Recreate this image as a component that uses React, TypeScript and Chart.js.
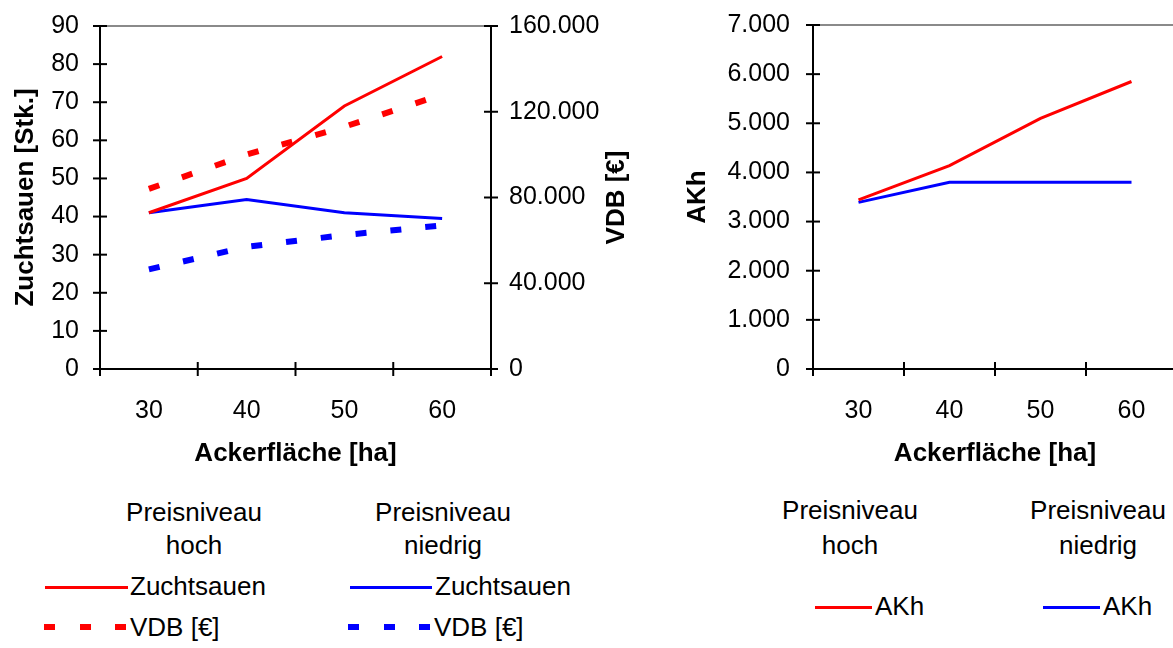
import React, { useEffect, useRef } from 'react';
import { Chart, registerables } from 'chart.js';

Chart.register(...registerables);

// ---------- data ----------
const categories = ['30', '40', '50', '60'];
const sowsHigh = [41, 50, 69, 82];
const sowsLow = [41, 44.5, 41, 39.5];
const vdbHigh = [84000, 100000, 113000, 128000];
const vdbLow = [46500, 57000, 62500, 67000];
const akhHigh = [3440, 4140, 5100, 5850];
const akhLow = [3390, 3800, 3800, 3800];

const sowsMax = 90;
const sowsStep = 10;
const vdbMax = 160000;
const vdbStep = 40000;
const akhMax = 7000;
const akhStep = 1000;

const xTitle = 'Ackerfläche [ha]';
const sowsTitle = 'Zuchtsauen [Stk.]';
const vdbTitle = 'VDB [€]';
const akhTitle = 'AKh';

const RED = '#ff0000';
const BLUE = '#0000ff';
const FONT = '"Liberation Sans", Arial, sans-serif';

const fmt = (v: number | string) =>
  String(v).replace(/\B(?=(\d{3})+(?!\d))/g, '.');

Chart.defaults.font.family = FONT;
Chart.defaults.color = '#000';

// plot frame: grey top line + crossing tick marks
const framePlugin = {
  id: 'framePlugin',
  beforeDatasetsDraw(chart: any) {
    const { ctx, chartArea: ca } = chart;
    ctx.save();
    ctx.strokeStyle = '#8a8a8a';
    ctx.lineWidth = 2;
    ctx.beginPath();
    ctx.moveTo(ca.left, ca.top);
    ctx.lineTo(ca.right, ca.top);
    ctx.stroke();
    ctx.restore();
  },
  afterDraw(chart: any) {
    const { ctx } = chart;
    ctx.save();
    ctx.strokeStyle = '#000';
    ctx.lineWidth = 2;
    const L = 7;
    Object.values(chart.scales).forEach((s: any) => {
      if (s.isHorizontal()) {
        const n = s.ticks.length;
        const half = (s.getPixelForValue(1) - s.getPixelForValue(0)) / 2;
        const y = s.top;
        for (let i = 0; i <= n; i++) {
          const x = i < n ? s.getPixelForValue(i) - half : s.getPixelForValue(n - 1) + half;
          ctx.beginPath();
          ctx.moveTo(x, y - L);
          ctx.lineTo(x, y + L);
          ctx.stroke();
        }
      } else {
        const x = s.position === 'left' ? s.right : s.left;
        s.ticks.forEach((t: any) => {
          const y = s.getPixelForValue(t.value);
          ctx.beginPath();
          ctx.moveTo(x - L, y);
          ctx.lineTo(x + L, y);
          ctx.stroke();
        });
      }
    });
    ctx.restore();
  },
};

// right-hand axis title reading bottom-to-top
const rightTitlePlugin = {
  id: 'rightTitle',
  afterDraw(chart: any, _args: any, opts: any) {
    if (!opts || !opts.text) return;
    const s = chart.scales[opts.axis];
    const { ctx } = chart;
    ctx.save();
    ctx.font = `bold 26px ${FONT}`;
    ctx.fillStyle = '#000';
    ctx.textAlign = 'center';
    ctx.textBaseline = 'middle';
    ctx.translate(s.right - opts.offset, (s.top + s.bottom) / 2);
    ctx.rotate(-Math.PI / 2);
    ctx.fillText(opts.text, 0, 0);
    ctx.restore();
  },
};

const border = { display: true, color: '#000', width: 2 };
const tickFont = { size: 25 };
const titleFont = { size: 26, weight: 'bold' as const };

function xScale(height: number) {
  return {
    type: 'category',
    offset: true,
    grid: { display: false, offset: true, drawTicks: true, tickLength: 27 },
    border,
    ticks: { color: '#000', font: tickFont, padding: 0, maxRotation: 0, autoSkip: false },
    title: { display: true, text: xTitle, color: '#000', font: titleFont, padding: { top: 0, bottom: 11 } },
    afterFit: (s: any) => {
      s.height = height;
    },
  };
}

const leftConfig: any = {
  type: 'line',
  data: {
    labels: categories,
    datasets: [
      { label: 'Zuchtsauen hoch', data: sowsHigh, yAxisID: 'y', borderColor: RED, borderWidth: 3, pointRadius: 0, tension: 0 },
      { label: 'Zuchtsauen niedrig', data: sowsLow, yAxisID: 'y', borderColor: BLUE, borderWidth: 3, pointRadius: 0, tension: 0 },
      { label: 'VDB hoch', data: vdbHigh, yAxisID: 'y1', borderColor: RED, borderWidth: 6, borderDash: [11, 24], borderCapStyle: 'butt', pointRadius: 0, tension: 0 },
      { label: 'VDB niedrig', data: vdbLow, yAxisID: 'y1', borderColor: BLUE, borderWidth: 6, borderDash: [11, 24], borderCapStyle: 'butt', pointRadius: 0, tension: 0 },
    ],
  },
  options: {
    responsive: false,
    animation: false,
    layout: { padding: { top: 26, left: 0, right: 0, bottom: 0 } },
    plugins: {
      legend: { display: false },
      tooltip: { enabled: false },
      rightTitle: { text: vdbTitle, axis: 'y1', offset: 23 },
    },
    scales: {
      x: xScale(111),
      y: {
        position: 'left',
        min: 0,
        max: sowsMax,
        grid: { display: false, drawTicks: true, tickLength: 21 },
        border,
        ticks: { stepSize: sowsStep, color: '#000', font: tickFont, padding: 0 },
        title: { display: true, text: sowsTitle, color: '#000', font: titleFont, padding: { top: 10, bottom: 0 } },
        afterFit: (s: any) => {
          s.width = 100;
        },
      },
      y1: {
        position: 'right',
        min: 0,
        max: vdbMax,
        grid: { display: false, drawTicks: true, tickLength: 18 },
        border,
        ticks: { stepSize: vdbStep, color: '#000', font: tickFont, padding: 0, callback: (v: number) => fmt(v) },
        afterFit: (s: any) => {
          s.width = 149;
        },
      },
    },
  },
  plugins: [framePlugin, rightTitlePlugin],
};

const rightConfig: any = {
  type: 'line',
  data: {
    labels: categories,
    datasets: [
      { label: 'AKh hoch', data: akhHigh, borderColor: RED, borderWidth: 3, pointRadius: 0, tension: 0 },
      { label: 'AKh niedrig', data: akhLow, borderColor: BLUE, borderWidth: 3, pointRadius: 0, tension: 0 },
    ],
  },
  options: {
    responsive: false,
    animation: false,
    layout: { padding: { top: 25, left: 0, right: 63, bottom: 0 } },
    plugins: { legend: { display: false }, tooltip: { enabled: false } },
    scales: {
      x: xScale(111),
      y: {
        position: 'left',
        min: 0,
        max: akhMax,
        grid: { display: false, drawTicks: true, tickLength: 23 },
        border,
        ticks: { stepSize: akhStep, color: '#000', font: tickFont, padding: 0, callback: (v: number) => fmt(v) },
        title: { display: true, text: akhTitle, color: '#000', font: titleFont, padding: { top: 42, bottom: 0 } },
        afterFit: (s: any) => {
          s.width = 173;
        },
      },
    },
  },
  plugins: [framePlugin],
};

function ChartCanvas({ config, left, width, height }: { config: any; left: number; width: number; height: number }) {
  const ref = useRef<HTMLCanvasElement>(null);
  useEffect(() => {
    const chart = new Chart(ref.current as HTMLCanvasElement, config);
    return () => chart.destroy();
  }, [config]);
  return (
    <canvas
      ref={ref}
      width={width}
      height={height}
      style={{ position: 'absolute', left, top: 0, width, height }}
    />
  );
}

function Txt({ x, y, text, center }: { x: number; y: number; text: string; center?: boolean }) {
  return (
    <div
      style={{
        position: 'absolute',
        left: x,
        top: y - 15,
        lineHeight: '30px',
        fontSize: 26,
        whiteSpace: 'nowrap',
        transform: center ? 'translateX(-50%)' : undefined,
      }}
    >
      {text}
    </div>
  );
}

function Sample({ x1, x2, y, color, dashed }: { x1: number; x2: number; y: number; color: string; dashed?: boolean }) {
  if (dashed) {
    const period = (x2 - x1 - 11) / 2;
    return (
      <>
        {[0, 1, 2].map((i) => (
          <div
            key={i}
            style={{
              position: 'absolute',
              left: x1 + i * period,
              top: y - 3,
              width: 11,
              height: 6,
              background: color,
            }}
          />
        ))}
      </>
    );
  }
  return (
    <div
      style={{
        position: 'absolute',
        left: x1,
        top: y - 1.5,
        width: x2 - x1,
        height: 3,
        background: color,
      }}
    />
  );
}

export default function App() {
  return (
    <div
      style={{
        position: 'fixed',
        left: 0,
        top: 0,
        width: 1173,
        height: 648,
        overflow: 'hidden',
        background: '#fff',
        fontFamily: FONT,
        color: '#000',
      }}
    >
      <ChartCanvas config={leftConfig} left={0} width={640} height={480} />
      <ChartCanvas config={rightConfig} left={640} width={600} height={480} />

      {/* left legend */}
      <Txt x={194} y={512} text="Preisniveau" center />
      <Txt x={194} y={545} text="hoch" center />
      <Txt x={443} y={512} text="Preisniveau" center />
      <Txt x={443} y={545} text="niedrig" center />
      <Sample x1={45} x2={128} y={587} color={RED} />
      <Txt x={130} y={586} text="Zuchtsauen" />
      <Sample x1={350} x2={432} y={587} color={BLUE} />
      <Txt x={435} y={586} text="Zuchtsauen" />
      <Sample x1={44} x2={126} y={627} color={RED} dashed />
      <Txt x={130} y={627} text="VDB [€]" />
      <Sample x1={348} x2={430} y={627} color={BLUE} dashed />
      <Txt x={434} y={627} text="VDB [€]" />

      {/* right legend */}
      <Txt x={850} y={510} text="Preisniveau" center />
      <Txt x={850} y={545} text="hoch" center />
      <Txt x={1098} y={510} text="Preisniveau" center />
      <Txt x={1098} y={545} text="niedrig" center />
      <Sample x1={815} x2={872} y={607} color={RED} />
      <Txt x={875} y={606} text="AKh" />
      <Sample x1={1043} x2={1100} y={607} color={BLUE} />
      <Txt x={1103} y={606} text="AKh" />
    </div>
  );
}
